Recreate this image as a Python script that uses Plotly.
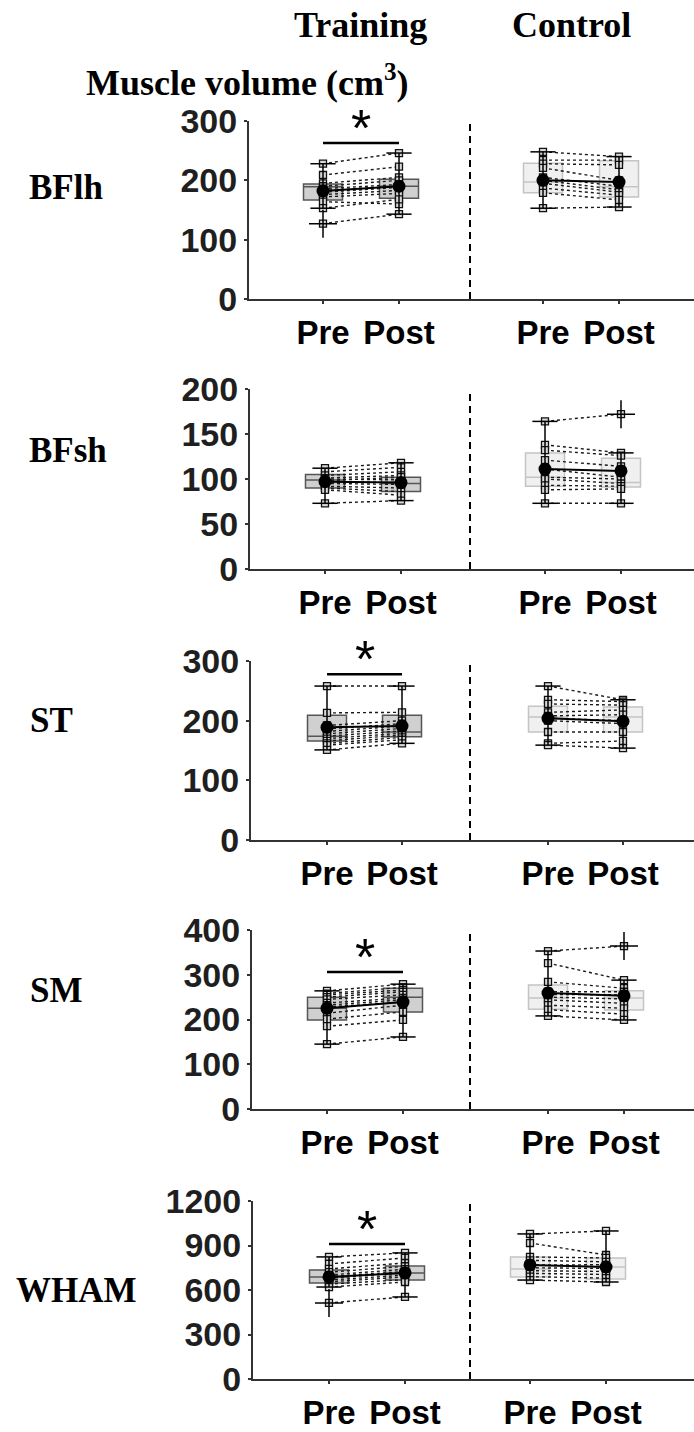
import plotly.graph_objects as go

# ---------------------------------------------------------------- data
muscles = ["BFlh", "BFsh", "ST", "SM", "WHAM"]
y_max = [300, 200, 300, 400, 1200]
y_step = [100, 50, 100, 100, 300]

# individual muscle volumes (cm^3), paired pre/post per subject
trn_pre = {
    "BFlh": [228, 209, 195, 190, 186, 183, 180, 176, 172, 164, 153, 127],
    "BFsh": [112, 108, 104, 101, 100, 98, 97, 95, 92, 90, 88, 73],
    "ST":   [258, 213, 192, 186, 182, 178, 174, 170, 166, 162, 159, 151],
    "SM":   [264, 258, 255, 250, 245, 237, 232, 228, 214, 201, 185, 145],
    "WHAM": [823, 776, 742, 720, 701, 690, 680, 667, 655, 640, 620, 513],
}
trn_post = {
    "BFlh": [246, 223, 205, 200, 193, 190, 188, 183, 178, 160, 168, 143],
    "BFsh": [118, 113, 108, 104, 99, 102, 96, 94, 90, 86, 82, 76],
    "ST":   [258, 214, 200, 195, 191, 187, 183, 179, 176, 172, 168, 162],
    "SM":   [279, 272, 266, 262, 255, 248, 244, 239, 232, 217, 199, 161],
    "WHAM": [850, 816, 782, 760, 740, 725, 715, 700, 688, 670, 654, 553],
}
con_pre = {
    "BFlh": [248, 234, 228, 221, 205, 200, 195, 187, 179, 153],
    "BFsh": [164, 138, 132, 121, 111, 102, 100, 93, 88, 73],
    "ST":   [258, 235, 228, 214, 208, 204, 200, 181, 162, 159],
    "SM":   [353, 326, 284, 262, 256, 250, 244, 232, 222, 208],
    "WHAM": [978, 917, 823, 800, 769, 750, 730, 712, 690, 667],
}
con_post = {
    "BFlh": [240, 234, 226, 200, 190, 184, 180, 175, 167, 155],
    "BFsh": [172, 129, 126, 114, 102, 100, 95, 92, 89, 73],
    "ST":   [235, 232, 226, 218, 210, 200, 195, 181, 166, 154],
    "SM":   [364, 288, 270, 262, 255, 246, 236, 225, 212, 199],
    "WHAM": [998, 836, 816, 790, 770, 745, 725, 705, 680, 654],
}

# box statistics, order: training pre, training post, control pre, control post
box_q1 = {"BFlh": [167, 170, 179, 172], "BFsh": [90, 86, 92, 91],
          "ST": [166, 173, 181, 181], "SM": [199, 217, 223, 221],
          "WHAM": [647, 667, 688, 674]}
box_median = {"BFlh": [189, 190, 197, 189], "BFsh": [99, 95, 102, 96],
              "ST": [174, 181, 206, 206], "SM": [225, 250, 248, 248],
              "WHAM": [688, 715, 742, 755]}
box_q3 = {"BFlh": [194, 202, 229, 233], "BFsh": [105, 102, 129, 123],
          "ST": [209, 209, 224, 223], "SM": [250, 270, 277, 264],
          "WHAM": [735, 762, 823, 816]}
group_mean = {"BFlh": [182, 190, 200, 197], "BFsh": [97, 96, 111, 109],
              "ST": [189, 191, 204, 199], "SM": [225, 239, 259, 253],
              "WHAM": [688, 715, 769, 755]}
# (slot, value) of points flagged as outliers
outliers = {"BFlh": [(0, 127)], "BFsh": [(3, 172)], "ST": [],
            "SM": [(3, 364)], "WHAM": [(0, 513)]}
# Pre vs Post significant in training group
sig_level = {"BFlh": 263, "ST": 278, "SM": 306, "WHAM": 910}

x_labels = ["Pre", "Post", "Pre", "Post"]

# ---------------------------------------------------------------- layout (pixels)
W, H = 694, 1432
panel_top = [121, 389, 661, 930, 1201]
panel_bottom = [299, 569, 840, 1109, 1379]
axis_left = [249, 250, 251, 252, 253]
slot_px = [[323, 399, 543, 619],
           [325, 401, 545, 621],
           [327, 402, 548, 623],
           [327, 403, 548, 624],
           [329, 405, 530, 606]]
divider_px = 470
UNIT = 76.0          # pixels between Pre and Post
BOX_W = 39.0         # box width in pixels
row_label_x = [27, 27, 28, 28, 14]
row_label_y = [187, 450, 720, 990, 1290]

SERIF = "Times New Roman, Liberation Serif, serif"
SANS = "Arial, Liberation Sans, sans-serif"
AX = "#333333"

fig = go.Figure()
layout = dict(template="none", width=W, height=H,
              margin=dict(l=0, r=0, t=0, b=0, autoexpand=False),
              paper_bgcolor="white", plot_bgcolor="white", showlegend=False)
shapes, annotations = [], []

for i, m in enumerate(muscles):
    sfx = "" if i == 0 else str(i + 1)
    xa, ya = "x" + sfx, "y" + sfx
    sp = slot_px[i]

    def to_x(px, ref=sp[0]):
        return 1 + (px - ref) / UNIT

    xs = [to_x(p) for p in sp]

    layout["xaxis" + sfx] = dict(
        domain=[axis_left[i] / W, 1], range=[to_x(axis_left[i]), to_x(W)],
        anchor=ya, automargin=False, showline=True, linewidth=2, linecolor=AX,
        ticks="outside", ticklen=3, tickwidth=2, tickcolor=AX,
        tickvals=xs, ticktext=x_labels, ticklabelstandoff=0,
        tickfont=dict(family=SANS, size=33, color="black", weight="bold"),
        showgrid=False, zeroline=False, fixedrange=True)
    layout["yaxis" + sfx] = dict(
        domain=[1 - panel_bottom[i] / H, 1 - panel_top[i] / H],
        range=[0, y_max[i]], anchor=xa, automargin=False, showline=True,
        linewidth=2, linecolor=AX, ticks="outside", ticklen=3, tickwidth=2,
        tickcolor=AX, tickvals=list(range(0, y_max[i] + 1, y_step[i])),
        ticklabelstandoff=0,
        tickfont=dict(family=SANS, size=34, color="#1f1f1f", weight="bold"),
        showgrid=False, zeroline=False, fixedrange=True)

    # boxes (quartiles + median)
    for sl, fill, edge in (((0, 1), "#d0d0d0", "#555555"),
                           ((2, 3), "#f0f0f0", "#c4c4c4")):
        q1 = [box_q1[m][k] for k in sl]
        q3 = [box_q3[m][k] for k in sl]
        fig.add_trace(go.Box(
            x=[xs[k] for k in sl], q1=q1, q3=q3,
            median=[box_median[m][k] for k in sl],
            lowerfence=q1, upperfence=q3, width=BOX_W / UNIT,
            fillcolor=fill, line=dict(color=edge, width=1.5),
            boxpoints=False, hoverinfo="skip", xaxis=xa, yaxis=ya))

    # individual subjects: dotted pre -> post lines
    groups = [(0, 1, trn_pre[m], trn_post[m]), (2, 3, con_pre[m], con_post[m])]
    for a, b, pre, post in groups:
        lx, ly = [], []
        for p, q in zip(pre, post):
            lx += [xs[a], xs[b], None]
            ly += [p, q, None]
        fig.add_trace(go.Scatter(
            x=lx, y=ly, mode="lines+markers",
            line=dict(color="#1a1a1a", width=1.4, dash="dot"),
            marker=dict(symbol="square", size=7, color="#d8d8d8",
                        line=dict(color="#111111", width=1.3)),
            hoverinfo="skip", cliponaxis=False, xaxis=xa, yaxis=ya))

    # whiskers, caps and outliers
    slot_vals = [trn_pre[m], trn_post[m], con_pre[m], con_post[m]]
    for k in range(4):
        out = [v for s, v in outliers[m] if s == k]
        core = [v for v in slot_vals[k] if v not in out]
        lo, hi = min(core), max(core)
        fig.add_trace(go.Scatter(
            x=[xs[k], xs[k]], y=[lo, hi], mode="lines+markers",
            line=dict(color="black", width=1.5),
            marker=dict(symbol="line-ew", size=18,
                        line=dict(color="black", width=1.5)),
            hoverinfo="skip", cliponaxis=False, xaxis=xa, yaxis=ya))
        if out:
            fig.add_trace(go.Scatter(
                x=[xs[k]] * len(out), y=out, mode="markers",
                marker=dict(symbol="cross-thin", size=20,
                            line=dict(color="black", width=1.5)),
                hoverinfo="skip", cliponaxis=False, xaxis=xa, yaxis=ya))

    # group means
    for a, b in ((0, 1), (2, 3)):
        fig.add_trace(go.Scatter(
            x=[xs[a], xs[b]], y=[group_mean[m][a], group_mean[m][b]],
            mode="lines+markers", line=dict(color="black", width=2),
            marker=dict(symbol="circle", size=13, color="black"),
            hoverinfo="skip", cliponaxis=False, xaxis=xa, yaxis=ya))

    # training / control divider
    shapes.append(dict(type="line", xref=xa, yref=ya + " domain",
                       x0=to_x(divider_px), x1=to_x(divider_px), y0=0, y1=1,
                       line=dict(color="black", width=2, dash="7px,5px")))

    # significance bracket
    if m in sig_level:
        shapes.append(dict(type="line", xref=xa, yref=ya,
                           x0=xs[0], x1=xs[1], y0=sig_level[m], y1=sig_level[m],
                           line=dict(color="black", width=2.5)))
        annotations.append(dict(text="*", xref=xa, yref=ya,
                                x=(xs[0] + xs[1]) / 2, y=sig_level[m],
                                yanchor="bottom", yshift=-16, showarrow=False,
                                font=dict(family=SANS, size=52, color="black")))

    # muscle name
    annotations.append(dict(text="<b>%s</b>" % m, xref="paper", yref="paper",
                            x=row_label_x[i] / W, y=1 - row_label_y[i] / H,
                            xanchor="left", yanchor="middle", showarrow=False,
                            font=dict(family=SERIF, size=35, color="black")))

# column and axis titles
for txt, cx, cy in (("Training", 360, 25), ("Control", 571, 25),
                    ("Muscle volume (cm<sup>3</sup>)", 247, 80)):
    annotations.append(dict(text="<b>%s</b>" % txt, xref="paper", yref="paper",
                            x=cx / W, y=1 - cy / H, xanchor="center",
                            yanchor="middle", showarrow=False,
                            font=dict(family=SERIF, size=36, color="black")))

layout["shapes"] = shapes
layout["annotations"] = annotations
fig.update_layout(**layout)
fig.write_html("out.html")
